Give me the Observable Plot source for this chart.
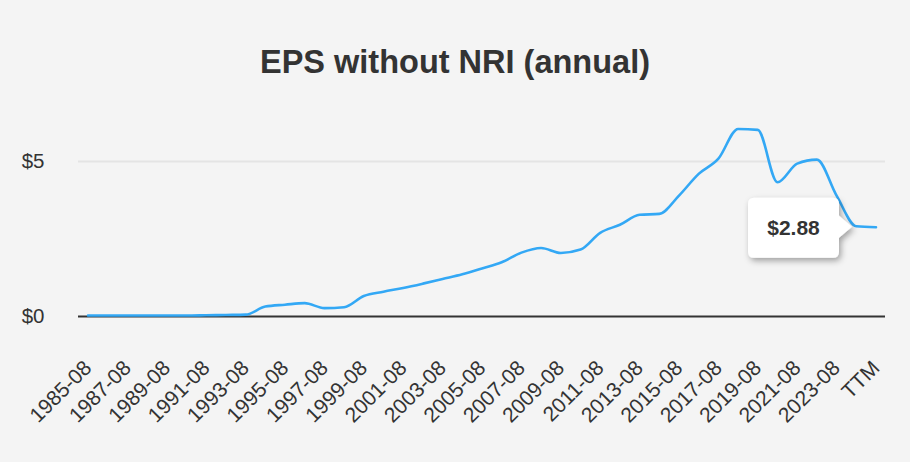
<!DOCTYPE html>
<html>
<head>
<meta charset="utf-8">
<script src="https://cdn.jsdelivr.net/npm/d3@7"></script>
<script src="https://cdn.jsdelivr.net/npm/@observablehq/plot@0.6"></script>
<style>
  html, body { margin: 0; padding: 0; background: #f4f4f4; }
  #wrap { width: 910px; height: 462px; position: relative; overflow: hidden; background: #f4f4f4; }
  #title { box-sizing: border-box; height: 100px; padding-top: 46px; line-height: 32px; text-align: center;
    font-family: "Liberation Sans", Arial, Helvetica, sans-serif; font-weight: bold; font-size: 32.5px; color: #333; }
  svg { display: block; }
</style>
</head>
<body>
<div id="wrap">
  <div id="title">EPS without NRI (annual)</div>
  <div id="chart"></div>
</div>
<script>
const categories = ["1985-08","1986-08","1987-08","1988-08","1989-08","1990-08","1991-08","1992-08","1993-08","1994-08",
  "1995-08","1996-08","1997-08","1998-08","1999-08","2000-08","2001-08","2002-08","2003-08","2004-08",
  "2005-08","2006-08","2007-08","2008-08","2009-08","2010-08","2011-08","2012-08","2013-08","2014-08",
  "2015-08","2016-08","2017-08","2018-08","2019-08","2020-08","2021-08","2022-08","2023-08","2024-08","TTM"];
const eps = [0.03,0.03,0.03,0.03,0.03,0.03,0.04,0.05,0.06,0.32,
  0.38,0.43,0.27,0.30,0.66,0.80,0.92,1.06,1.21,1.36,
  1.55,1.75,2.06,2.21,2.05,2.16,2.70,2.96,3.28,3.31,
  3.90,4.60,5.09,6.05,6.02,4.33,4.93,5.06,3.90,2.91,2.88];
const tickLabels = ["1985-08","1987-08","1989-08","1991-08","1993-08","1995-08","1997-08","1999-08","2001-08","2003-08",
  "2005-08","2007-08","2009-08","2011-08","2013-08","2015-08","2017-08","2019-08","2021-08","2023-08","TTM"];
const yTicks = [0, 5];
const tooltipLabel = "$2.88";

const data = categories.map((c, i) => ({i, cat: c, v: eps[i]}));
const tickIdx = tickLabels.map(t => categories.indexOf(t));
const font = "Liberation Sans, Arial, Helvetica, sans-serif";

const plot = Plot.plot({
  width: 910,
  height: 362,
  marginLeft: 78,
  marginRight: 25,
  marginTop: 14.5,
  marginBottom: 146,
  style: {background: "transparent", fontFamily: font, color: "#333", overflow: "visible"},
  x: {type: "linear", domain: [0, categories.length - 1], insetLeft: 9.5, insetRight: 9.5},
  y: {domain: [0, 6.5]},
  marks: [
    Plot.ruleY([5], {stroke: "#e4e4e4", strokeWidth: 2}),
    Plot.ruleY([0], {stroke: "#333", strokeWidth: 2}),
    Plot.axisY({ticks: yTicks, tickFormat: d => "$" + d, tickSize: 0, tickPadding: 34, fontSize: 20.5, label: null, fill: "#333"}),
    Plot.axisX({ticks: tickIdx, tickFormat: i => categories[i], tickRotate: -45, tickSize: 0, tickPadding: 48, fontSize: 21, label: null, fill: "#333"}),
    Plot.line(data, {x: "i", y: "v", stroke: "#33a8f5", strokeWidth: 2.6, curve: "monotone-x"})
  ]
});
document.getElementById("chart").appendChild(plot);

// Tooltip anchored to the TTM value via the plot scales
const xs = plot.scale("x"), ys = plot.scale("y");
const last = data[data.length - 1];
const tipX = xs.apply(last.i) - 23.5;
const tipY = ys.apply(last.v);
const svg = d3.select(plot);
const defs = svg.append("defs");
const f = defs.append("filter").attr("id", "shadow").attr("x", "-30%").attr("y", "-30%").attr("width", "160%").attr("height", "160%");
f.append("feDropShadow").attr("dx", 2).attr("dy", 3).attr("stdDeviation", 3).attr("flood-color", "#000").attr("flood-opacity", 0.35);
const boxW = 91, boxH = 60, gap = 13;
const bx = tipX - gap - boxW, by = tipY - boxH / 2 + 1;
const g = svg.append("g").attr("filter", "url(#shadow)");
g.append("path")
  .attr("d", `M${bx + 6},${by} H${bx + boxW - 6} Q${bx + boxW},${by} ${bx + boxW},${by + 6} V${tipY - 11} L${tipX},${tipY} L${bx + boxW},${tipY + 11} V${by + boxH - 6} Q${bx + boxW},${by + boxH} ${bx + boxW - 6},${by + boxH} H${bx + 6} Q${bx},${by + boxH} ${bx},${by + boxH - 6} V${by + 6} Q${bx},${by} ${bx + 6},${by} Z`)
  .attr("fill", "#fff");
svg.append("text")
  .attr("x", bx + boxW / 2).attr("y", by + boxH / 2).attr("dy", "0.35em")
  .attr("text-anchor", "middle")
  .attr("font-family", font).attr("font-weight", "bold").attr("font-size", 21).attr("fill", "#333")
  .text(tooltipLabel);
</script>
</body>
</html>
